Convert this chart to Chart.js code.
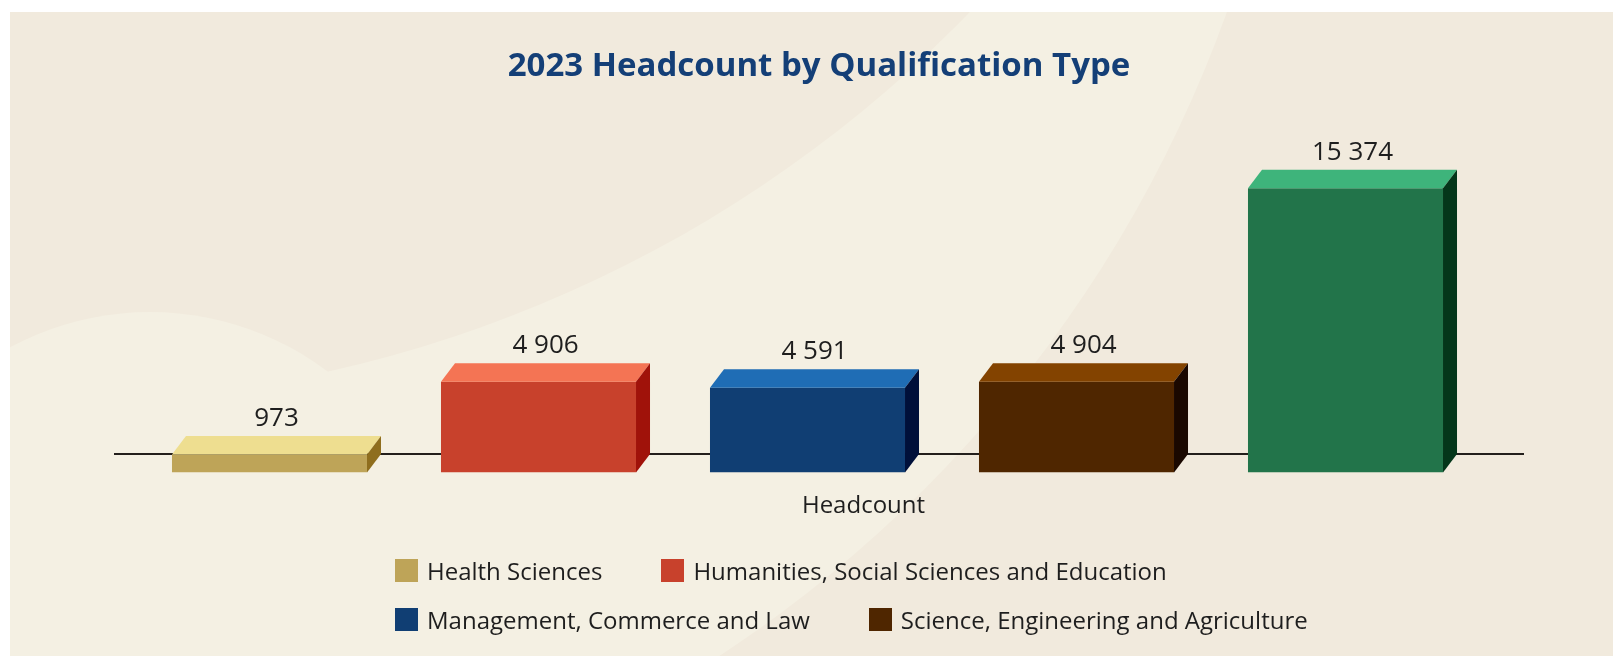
<!DOCTYPE html>
<html>
<head>
<meta charset="utf-8">
<script src="https://cdn.jsdelivr.net/npm/chart.js@4.4.1/dist/chart.umd.min.js"></script>
<style>
  html, body { margin: 0; padding: 0; background: #ffffff; }
  #wrap { position: relative; width: 1613px; height: 656px; overflow: hidden; }
  #chart { position: absolute; left: 0; top: 0; }
  #legend {
    position: absolute; left: 395px; top: 556px; width: 960px;
    display: flex; flex-wrap: wrap; column-gap: 59px; row-gap: 20px;
    font-family: "Open Sans", sans-serif; font-size: 24px; color: #1e1e1e;
  }
  .item { display: flex; align-items: center; height: 29px; white-space: nowrap; }
  .swatch { width: 23px; height: 23px; margin-right: 9px; flex: none; }
</style>
</head>
<body>
<div id="wrap">
  <canvas id="chart" width="1613" height="656"></canvas>
  <div id="legend"></div>
</div>
<script>
// Data
const axisLabels = ["Headcount"];
const categories = [
  "Health Sciences",
  "Humanities, Social Sciences and Education",
  "Management, Commerce and Law",
  "Science, Engineering and Agriculture",
  "Total",
];
const headcounts = [973, 4906, 4591, 4904, 15374];

// Bar face colours (front, top, side)
const frontColors = ["#bea458", "#c8412c", "#103e73", "#4f2600", "#22744a"];
const topColors = ["#eede90", "#f47454", "#1f6db5", "#834300", "#3eb47b"];
const sideColors = ["#8f6e1e", "#a0120a", "#00103a", "#1a0800", "#04361a"];

const DEPTH_X = 14;
const DEPTH_Y = 18.5;
const TEXT_COLOR = "#1e1e1e";

function formatNumber(v) {
  return String(v).replace(/\B(?=(\d{3})+(?!\d))/g, " ");
}

/* ============================
   PLUGINS
============================ */

// Panel background with the soft curved shapes
const backgroundPlugin = {
  id: "panelBackground",
  beforeDraw(chart) {
    const ctx = chart.ctx;
    const w = chart.width, h = chart.height;
    ctx.save();
    ctx.fillStyle = "#ffffff";
    ctx.fillRect(0, 0, w, h);
    ctx.beginPath();
    ctx.rect(10, 12, w - 10, h - 12);
    ctx.clip();
    ctx.fillStyle = "#f1eadd";
    ctx.fillRect(10, 12, w - 10, h - 12);

    ctx.fillStyle = "#f4f0e3";
    // sweeping band
    ctx.beginPath();
    ctx.arc(10, -425, 1293, 0, Math.PI * 2);
    ctx.arc(50, -878, 1280, 0, Math.PI * 2);
    ctx.fill("evenodd");
    // lower left circle
    ctx.beginPath();
    ctx.arc(150, 607, 295, 0, Math.PI * 2);
    ctx.fill();
    ctx.restore();
  },
};

// Floor line behind the bars
const floorPlugin = {
  id: "floorLine",
  beforeDatasetsDraw(chart) {
    const { ctx, chartArea } = chart;
    const y = chartArea.bottom - DEPTH_Y;
    ctx.save();
    ctx.strokeStyle = "#231f1c";
    ctx.lineWidth = 2;
    ctx.beginPath();
    ctx.moveTo(chartArea.left - 21, y);
    ctx.lineTo(chartArea.right + 44, y);
    ctx.stroke();
    ctx.restore();
  },
};

// Top and side faces plus value labels
const boxPlugin = {
  id: "boxFaces",
  afterDatasetsDraw(chart) {
    const ctx = chart.ctx;
    ctx.save();
    chart.data.datasets.forEach((ds, i) => {
      const meta = chart.getDatasetMeta(i);
      meta.data.forEach((bar, j) => {
        const p = bar.getProps(["x", "y", "base", "width"], true);
        const left = p.x - p.width / 2;
        const right = p.x + p.width / 2;

        ctx.fillStyle = topColors[i];
        ctx.beginPath();
        ctx.moveTo(left, p.y);
        ctx.lineTo(left + DEPTH_X, p.y - DEPTH_Y);
        ctx.lineTo(right + DEPTH_X, p.y - DEPTH_Y);
        ctx.lineTo(right, p.y);
        ctx.closePath();
        ctx.fill();

        ctx.fillStyle = sideColors[i];
        ctx.beginPath();
        ctx.moveTo(right, p.y);
        ctx.lineTo(right + DEPTH_X, p.y - DEPTH_Y);
        ctx.lineTo(right + DEPTH_X, p.base - DEPTH_Y);
        ctx.lineTo(right, p.base);
        ctx.closePath();
        ctx.fill();

        ctx.fillStyle = TEXT_COLOR;
        ctx.font = '26px "Open Sans"';
        ctx.textAlign = "center";
        ctx.textBaseline = "alphabetic";
        ctx.fillText(formatNumber(ds.data[j]), p.x + DEPTH_X / 2, p.y - DEPTH_Y - 10);
      });
    });
    ctx.restore();
  },
};

/* ============================
   CHART
============================ */

const chart = new Chart(document.getElementById("chart"), {
  type: "bar",
  data: {
    labels: axisLabels,
    datasets: categories.map((name, i) => ({
      label: name,
      data: [headcounts[i]],
      backgroundColor: frontColors[i],
      borderWidth: 0,
    })),
  },
  options: {
    responsive: false,
    animation: false,
    layout: { padding: { left: 135, right: 110, top: 12, bottom: 115.7 } },
    datasets: { bar: { categoryPercentage: 1, barPercentage: 0.725 } },
    plugins: {
      legend: { display: false },
      tooltip: { enabled: false },
      title: {
        display: true,
        text: "2023 Headcount by Qualification Type",
        color: "#143f77",
        font: { family: "Open Sans", size: 33, weight: "bold" },
        padding: { top: 35, bottom: 90.2 },
      },
    },
    scales: {
      x: {
        grid: { display: false, drawTicks: false },
        border: { display: false },
        ticks: {
          color: TEXT_COLOR,
          font: { family: "Open Sans", size: 24 },
          padding: 19.5,
          labelOffset: 56,
        },
      },
      // value axis kept invisible, on the right with a small empty gutter
      y: {
        position: "right",
        min: 0,
        max: 16000,
        grid: { display: false, drawTicks: false },
        border: { display: false },
        ticks: { display: false },
        afterFit(scale) {
          scale.width = 23;
        },
      },
    },
  },
  plugins: [backgroundPlugin, floorPlugin, boxPlugin],
});

/* ============================
   LEGEND (total bar is not listed)
============================ */

const legendEl = document.getElementById("legend");
categories.slice(0, 4).forEach((name, i) => {
  const item = document.createElement("div");
  item.className = "item";
  const sw = document.createElement("span");
  sw.className = "swatch";
  sw.style.background = frontColors[i];
  const txt = document.createElement("span");
  txt.textContent = name;
  item.appendChild(sw);
  item.appendChild(txt);
  legendEl.appendChild(item);
});
</script>
</body>
</html>
